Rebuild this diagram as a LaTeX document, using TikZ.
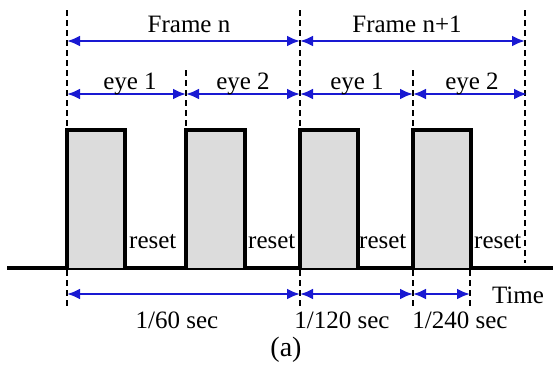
\documentclass[tikz,border=0pt]{standalone}
\usepackage{fontspec}
\setmainfont{Liberation Serif}
\usetikzlibrary{arrows.meta}
\definecolor{arrowblue}{RGB}{25,25,210}
\definecolor{pulsegray}{RGB}{220,220,220}
\tikzset{
  guide/.style={black, line width=2.4pt, dash pattern=on 6pt off 4pt},
  span/.style={arrowblue, line width=2.6pt, {Latex[length=13pt,width=11pt]}-{Latex[length=13pt,width=11pt]}},
  pulse/.style={draw=black, fill=pulsegray, line width=4.5pt},
  lbl/.style={font=\fontsize{25}{28}\selectfont, inner sep=0pt, anchor=base},
}
\begin{document}
\begin{tikzpicture}[x=1pt,y=-1pt]
\useasboundingbox (0,0) rectangle (553,372);

% time axis
\coordinate (axL) at (7,268);
\coordinate (axR) at (553,268);
\draw[line width=4.5pt] (axL) -- (axR);

% exposure pulses
\draw[pulse] (67,268) |- (125,130) -- (125,268);
\draw[pulse] (186,268) |- (245,130) -- (245,268);
\draw[pulse] (300,268) |- (358,130) -- (358,268);
\draw[pulse] (413,268) |- (471,130) -- (471,268);

% upper guide lines
\coordinate (g1t) at (67,10);   \coordinate (g1b) at (67,130);
\coordinate (g2t) at (186,70);  \coordinate (g2b) at (186,130);
\coordinate (g3t) at (300,10);  \coordinate (g3b) at (300,130);
\coordinate (g4t) at (413,70);  \coordinate (g4b) at (413,130);
\coordinate (g5t) at (525,10);  \coordinate (g5b) at (525,263);
\foreach \g in {1,...,5} \draw[guide] (g\g t) -- (g\g b);

% lower guide lines
\coordinate (h1t) at (67,270);  \coordinate (h1b) at (67,308);
\coordinate (h2t) at (300,270); \coordinate (h2b) at (300,308);
\coordinate (h3t) at (413,270); \coordinate (h3b) at (413,308);
\coordinate (h4t) at (470,270); \coordinate (h4b) at (470,308);
\foreach \g in {1,...,4} \draw[guide] (h\g t) -- (h\g b);

% frame spans
\coordinate (f0) at (67,41); \coordinate (f1) at (300,41); \coordinate (f2) at (525,41);
\draw[span] (f0) -- (f1);
\draw[span] (f1) -- (f2);
\node[lbl] (frn)  at (189,32) {Frame n};
\node[lbl] (frn1) at (407,32) {Frame n+1};

% eye spans
\coordinate (e0) at (67,94); \coordinate (e1) at (186,94); \coordinate (e2) at (300,94);
\coordinate (e3) at (413,94); \coordinate (e4) at (527,94);
\draw[span] (e0) -- (e1);
\draw[span] (e1) -- (e2);
\draw[span] (e2) -- (e3);
\draw[span] (e3) -- (e4);
\node[lbl] (eyeA) at (130,89) {eye 1};
\node[lbl] (eyeB) at (243,89) {eye 2};
\node[lbl] (eyeC) at (357,89) {eye 1};
\node[lbl] (eyeD) at (472,89) {eye 2};

% reset labels
\node[lbl, anchor=base west] (rs1) at (129,248) {reset};
\node[lbl, anchor=base west] (rs2) at (248,248) {reset};
\node[lbl, anchor=base west] (rs3) at (359,248) {reset};
\node[lbl, anchor=base west] (rs4) at (474,248) {reset};

% duration spans
\coordinate (d0) at (67,294); \coordinate (d1) at (300,294);
\coordinate (d2) at (413,294); \coordinate (d3) at (470,294);
\draw[span] (d0) -- (d1);
\draw[span] (d1) -- (d2);
\draw[span] (d2) -- (d3);
\node[lbl] (t60)  at (177,328) {1/60 sec};
\node[lbl] (t120) at (342,328) {1/120 sec};
\node[lbl] (t240) at (460,328) {1/240 sec};
\node[lbl] (time) at (518,303) {Time};
\node[lbl, font=\fontsize{28}{30}\selectfont] (cap) at (286,356) {(a)};
\end{tikzpicture}
\end{document}
